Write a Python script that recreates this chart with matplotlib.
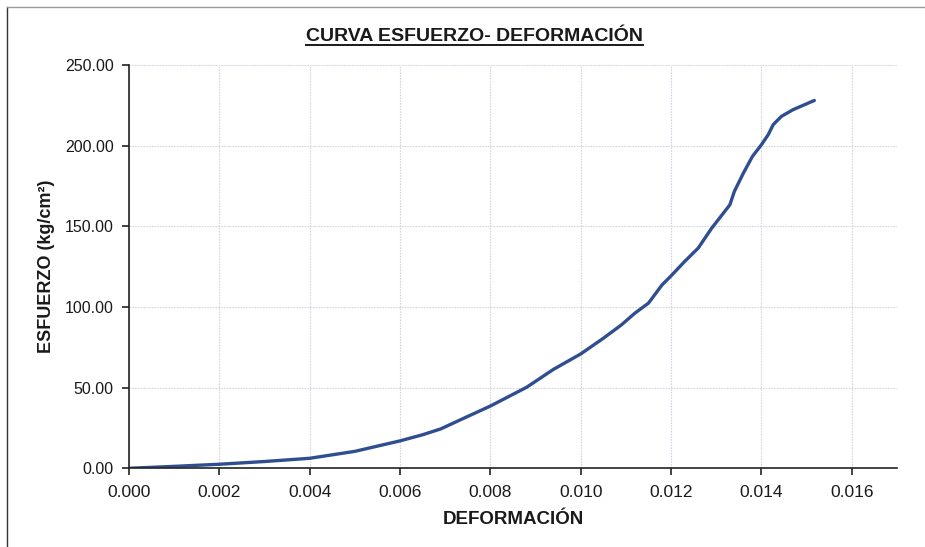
import matplotlib
matplotlib.use("Agg")
import matplotlib.pyplot as plt
from matplotlib import font_manager
from matplotlib.lines import Line2D

# Strain (deformación) and stress (esfuerzo, kg/cm²) readings
deformacion = [0.0, 0.001, 0.002, 0.003, 0.004, 0.005, 0.006, 0.0065, 0.0069,
               0.0073, 0.0080, 0.0084, 0.0088, 0.0094, 0.0100, 0.0105, 0.0109,
               0.0112, 0.0115, 0.0118, 0.0120, 0.0123, 0.0126, 0.0129, 0.0133,
               0.0134, 0.0136, 0.0138, 0.0140, 0.01415, 0.01426, 0.01444,
               0.0147, 0.01517]
esfuerzo = [0.0, 1.2, 2.5, 4.2, 6.2, 10.5, 17.0, 20.8, 24.4,
            29.6, 38.6, 44.4, 50.2, 61.4, 70.9, 80.6, 88.9,
            96.2, 102.4, 113.7, 119.3, 128.2, 136.5, 148.9, 163.3,
            171.6, 183.0, 193.3, 200.6, 206.8, 213.0, 218.1,
            222.3, 228.0]

x_ticks = [0.000, 0.002, 0.004, 0.006, 0.008, 0.010, 0.012, 0.014, 0.016]
y_ticks = [0, 50, 100, 150, 200, 250]

titulo = "CURVA ESFUERZO- DEFORMACIÓN"
etiqueta_x = "DEFORMACIÓN"
etiqueta_y = "ESFUERZO (kg/cm²)"

installed = {f.name for f in font_manager.fontManager.ttflist}
narrow = "Liberation Sans Narrow" if "Liberation Sans Narrow" in installed else "Liberation Sans"
regular = "Liberation Sans"

fig = plt.figure(figsize=(9.25, 5.47), dpi=100)
fig.patch.set_facecolor("white")
ax = fig.add_axes([0.1395, 0.1439, 0.8302, 0.7373])

ax.plot(deformacion, esfuerzo, color="#2f4e90", lw=2.4,
        solid_capstyle="round", solid_joinstyle="round")

ax.set_xlim(0, 0.017)
ax.set_ylim(0, 250)
ax.set_xticks(x_ticks)
ax.set_yticks(y_ticks)
ax.set_xticklabels([f"{v:.3f}" for v in x_ticks], fontfamily=narrow, fontsize=12.5)
ax.set_yticklabels([f"{v:.2f}" for v in y_ticks], fontfamily=regular, fontsize=11.5)

ax.grid(True, color="#d3d6e2", lw=0.8, ls=(0, (1.5, 1)))
ax.set_axisbelow(True)
for side in ("top", "right"):
    ax.spines[side].set_visible(False)
for side in ("left", "bottom"):
    ax.spines[side].set_color("#222222")
    ax.spines[side].set_linewidth(1.2)
ax.tick_params(axis="both", direction="out", length=5, width=1.2, color="#222222",
               labelcolor="#1a1a1a")
ax.tick_params(axis="x", pad=7)
ax.tick_params(axis="y", pad=6)

ax.set_xlabel(etiqueta_x, fontfamily=regular, fontweight="bold", fontsize=13.5,
              color="#1a1a1a", labelpad=8)
ax.set_ylabel(etiqueta_y, fontfamily=regular, fontweight="bold", fontsize=13,
              color="#1a1a1a", labelpad=7)

# Underlined title
y_title = 0.925
t = fig.text(0.5135, y_title, titulo, ha="center", va="baseline", fontfamily=regular,
             fontweight="bold", fontsize=14, color="#1a1a1a")
fig.canvas.draw()
bb = t.get_window_extent().transformed(fig.transFigure.inverted())
y_under = y_title - 0.007
fig.add_artist(Line2D([bb.x0, bb.x1], [y_under, y_under], transform=fig.transFigure,
                      color="#1a1a1a", lw=1.4))

# Frame around the chart area
fig.add_artist(Line2D([0.008, 0.008], [0.0, 0.987], transform=fig.transFigure,
                      color="#333333", lw=1.0))
fig.add_artist(Line2D([0.008, 1.0], [0.987, 0.987], transform=fig.transFigure,
                      color="#9a9aa0", lw=1.0))

fig.savefig("out.png", dpi=100, facecolor="white")
